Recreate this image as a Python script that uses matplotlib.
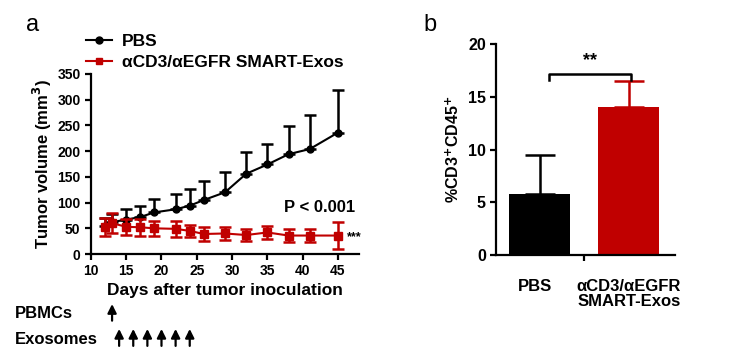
import numpy as np
import matplotlib.pyplot as plt
from matplotlib.lines import Line2D

plt.rcParams['font.family'] = ['Liberation Sans', 'DejaVu Sans']
plt.rcParams['font.weight'] = 'bold'

# panel a data
days = [12, 13, 15, 17, 19, 22, 24, 26, 29, 32, 35, 38, 41, 45]
pbs_mean = [55, 62, 67, 72, 81, 87, 94, 105, 120, 156, 174, 194, 204, 236]
pbs_err = [15, 16, 21, 22, 26, 29, 32, 37, 40, 42, 40, 55, 67, 83]
exo_mean = [53, 60, 53, 52, 50, 49, 45, 39, 40, 37, 42, 36, 36, 36]
exo_err = [17, 20, 15, 17, 15, 16, 12, 13, 12, 11, 12, 12, 12, 26]
pbmc_days = [13]
exo_days = [14, 16, 18, 20, 22, 24]

# panel b data
groups = ['PBS', '\u03b1CD3/\u03b1EGFR\nSMART-Exos']
bar_mean = [5.8, 14.0]
bar_err = [3.7, 2.5]

red = '#C00000'
fig = plt.figure(figsize=(7.33, 3.64), dpi=100)

# ---- panel a
ax = fig.add_axes([0.124, 0.302, 0.366, 0.495])
ax.errorbar(days, pbs_mean, yerr=[np.zeros(len(pbs_err)), pbs_err], color='black',
            marker='o', ms=5, lw=1.5, elinewidth=1.8, capsize=4, capthick=1.8, zorder=3)
ax.errorbar(days, exo_mean, yerr=exo_err, color=red, marker='s', ms=6, lw=1.5,
            elinewidth=1.8, capsize=4, capthick=1.8, zorder=4)
ax.set_xlim(10, 48)
ax.set_ylim(0, 350)
ax.set_xticks(range(10, 50, 5))
ax.set_yticks(range(0, 351, 50))
for s in ['top', 'right']:
    ax.spines[s].set_visible(False)
for s in ['left', 'bottom']:
    ax.spines[s].set_linewidth(1.6)
ax.tick_params(width=1.6, length=4, labelsize=10)
ax.set_ylabel('Tumor volume (mm$^\\mathbf{3}$)', fontsize=12, fontweight='bold', labelpad=2)
ax.set_xlabel('Days after tumor inoculation', fontsize=12.5, fontweight='bold', labelpad=3)
ax.text(37.3, 91, 'P < 0.001', fontsize=12, fontweight='bold', va='center')
ax.text(46.2, 33, '***', fontsize=9, fontweight='bold', va='center')
handles = [Line2D([], [], color='black', marker='o', ms=5, lw=1.5),
           Line2D([], [], color=red, marker='s', ms=5, lw=1.5)]
ax.legend(handles, ['PBS', '\u03b1CD3/\u03b1EGFR SMART-Exos'], loc='lower left',
          bbox_to_anchor=(-0.045, 0.985), frameon=False, fontsize=12.5,
          handlelength=1.5, handletextpad=0.6, labelspacing=0.3, borderaxespad=0)

arrow = dict(arrowstyle='-|>', color='black', lw=1.6, mutation_scale=13)
for d in pbmc_days:
    ax.annotate('', xy=(d, -0.262), xytext=(d, -0.385), xycoords=('data', 'axes fraction'),
                arrowprops=arrow, annotation_clip=False)
for d in exo_days:
    ax.annotate('', xy=(d, -0.40), xytext=(d, -0.525), xycoords=('data', 'axes fraction'),
                arrowprops=arrow, annotation_clip=False)
fig.text(0.020, 0.14, 'PBMCs', fontsize=12, fontweight='bold', va='center')
fig.text(0.020, 0.066, 'Exosomes', fontsize=12, fontweight='bold', va='center')

fig.text(0.036, 0.93, 'a', fontsize=17, fontweight='normal', va='center')
fig.text(0.577, 0.93, 'b', fontsize=17, fontweight='normal', va='center')

# ---- panel b
bx = fig.add_axes([0.677, 0.299, 0.244, 0.58])
x = np.arange(len(groups))
colors = ['black', red]
bx.bar(x, bar_mean, width=0.685, color=colors, zorder=2)
for xi, m, e, c in zip(x, bar_mean, bar_err, colors):
    bx.errorbar([xi], [m], yerr=[[0], [e]], fmt='none', ecolor=c,
                elinewidth=1.8, capsize=11, capthick=1.8, zorder=1)
bx.set_xlim(-0.49, 1.52)
bx.set_ylim(0, 20)
bx.set_yticks([0, 5, 10, 15, 20])
bx.set_xticks([0.5])
bx.set_xticklabels([''])
for s in ['top', 'right']:
    bx.spines[s].set_visible(False)
for s in ['left', 'bottom']:
    bx.spines[s].set_linewidth(1.6)
bx.tick_params(width=1.6, length=4, labelsize=11.5)
for xi, g in zip(x, groups):
    bx.text(xi - 0.05 * (1 - xi), -2.3, g, ha='center', va='top', fontsize=12,
            fontweight='bold', linespacing=1.0)
bx.set_ylabel('%CD3$^\\mathbf{+}$CD45$^\\mathbf{+}$', fontsize=11.5, fontweight='bold', labelpad=4)
bx.plot([0.1, 0.1, 1.03, 1.03], [16.6, 17.15, 17.15, 16.6], color='black', lw=1.8,
        clip_on=False)
bx.text(0.565, 17.6, '**', ha='center', va='bottom', fontsize=13, fontweight='bold')

fig.savefig('out.png', dpi=100)
